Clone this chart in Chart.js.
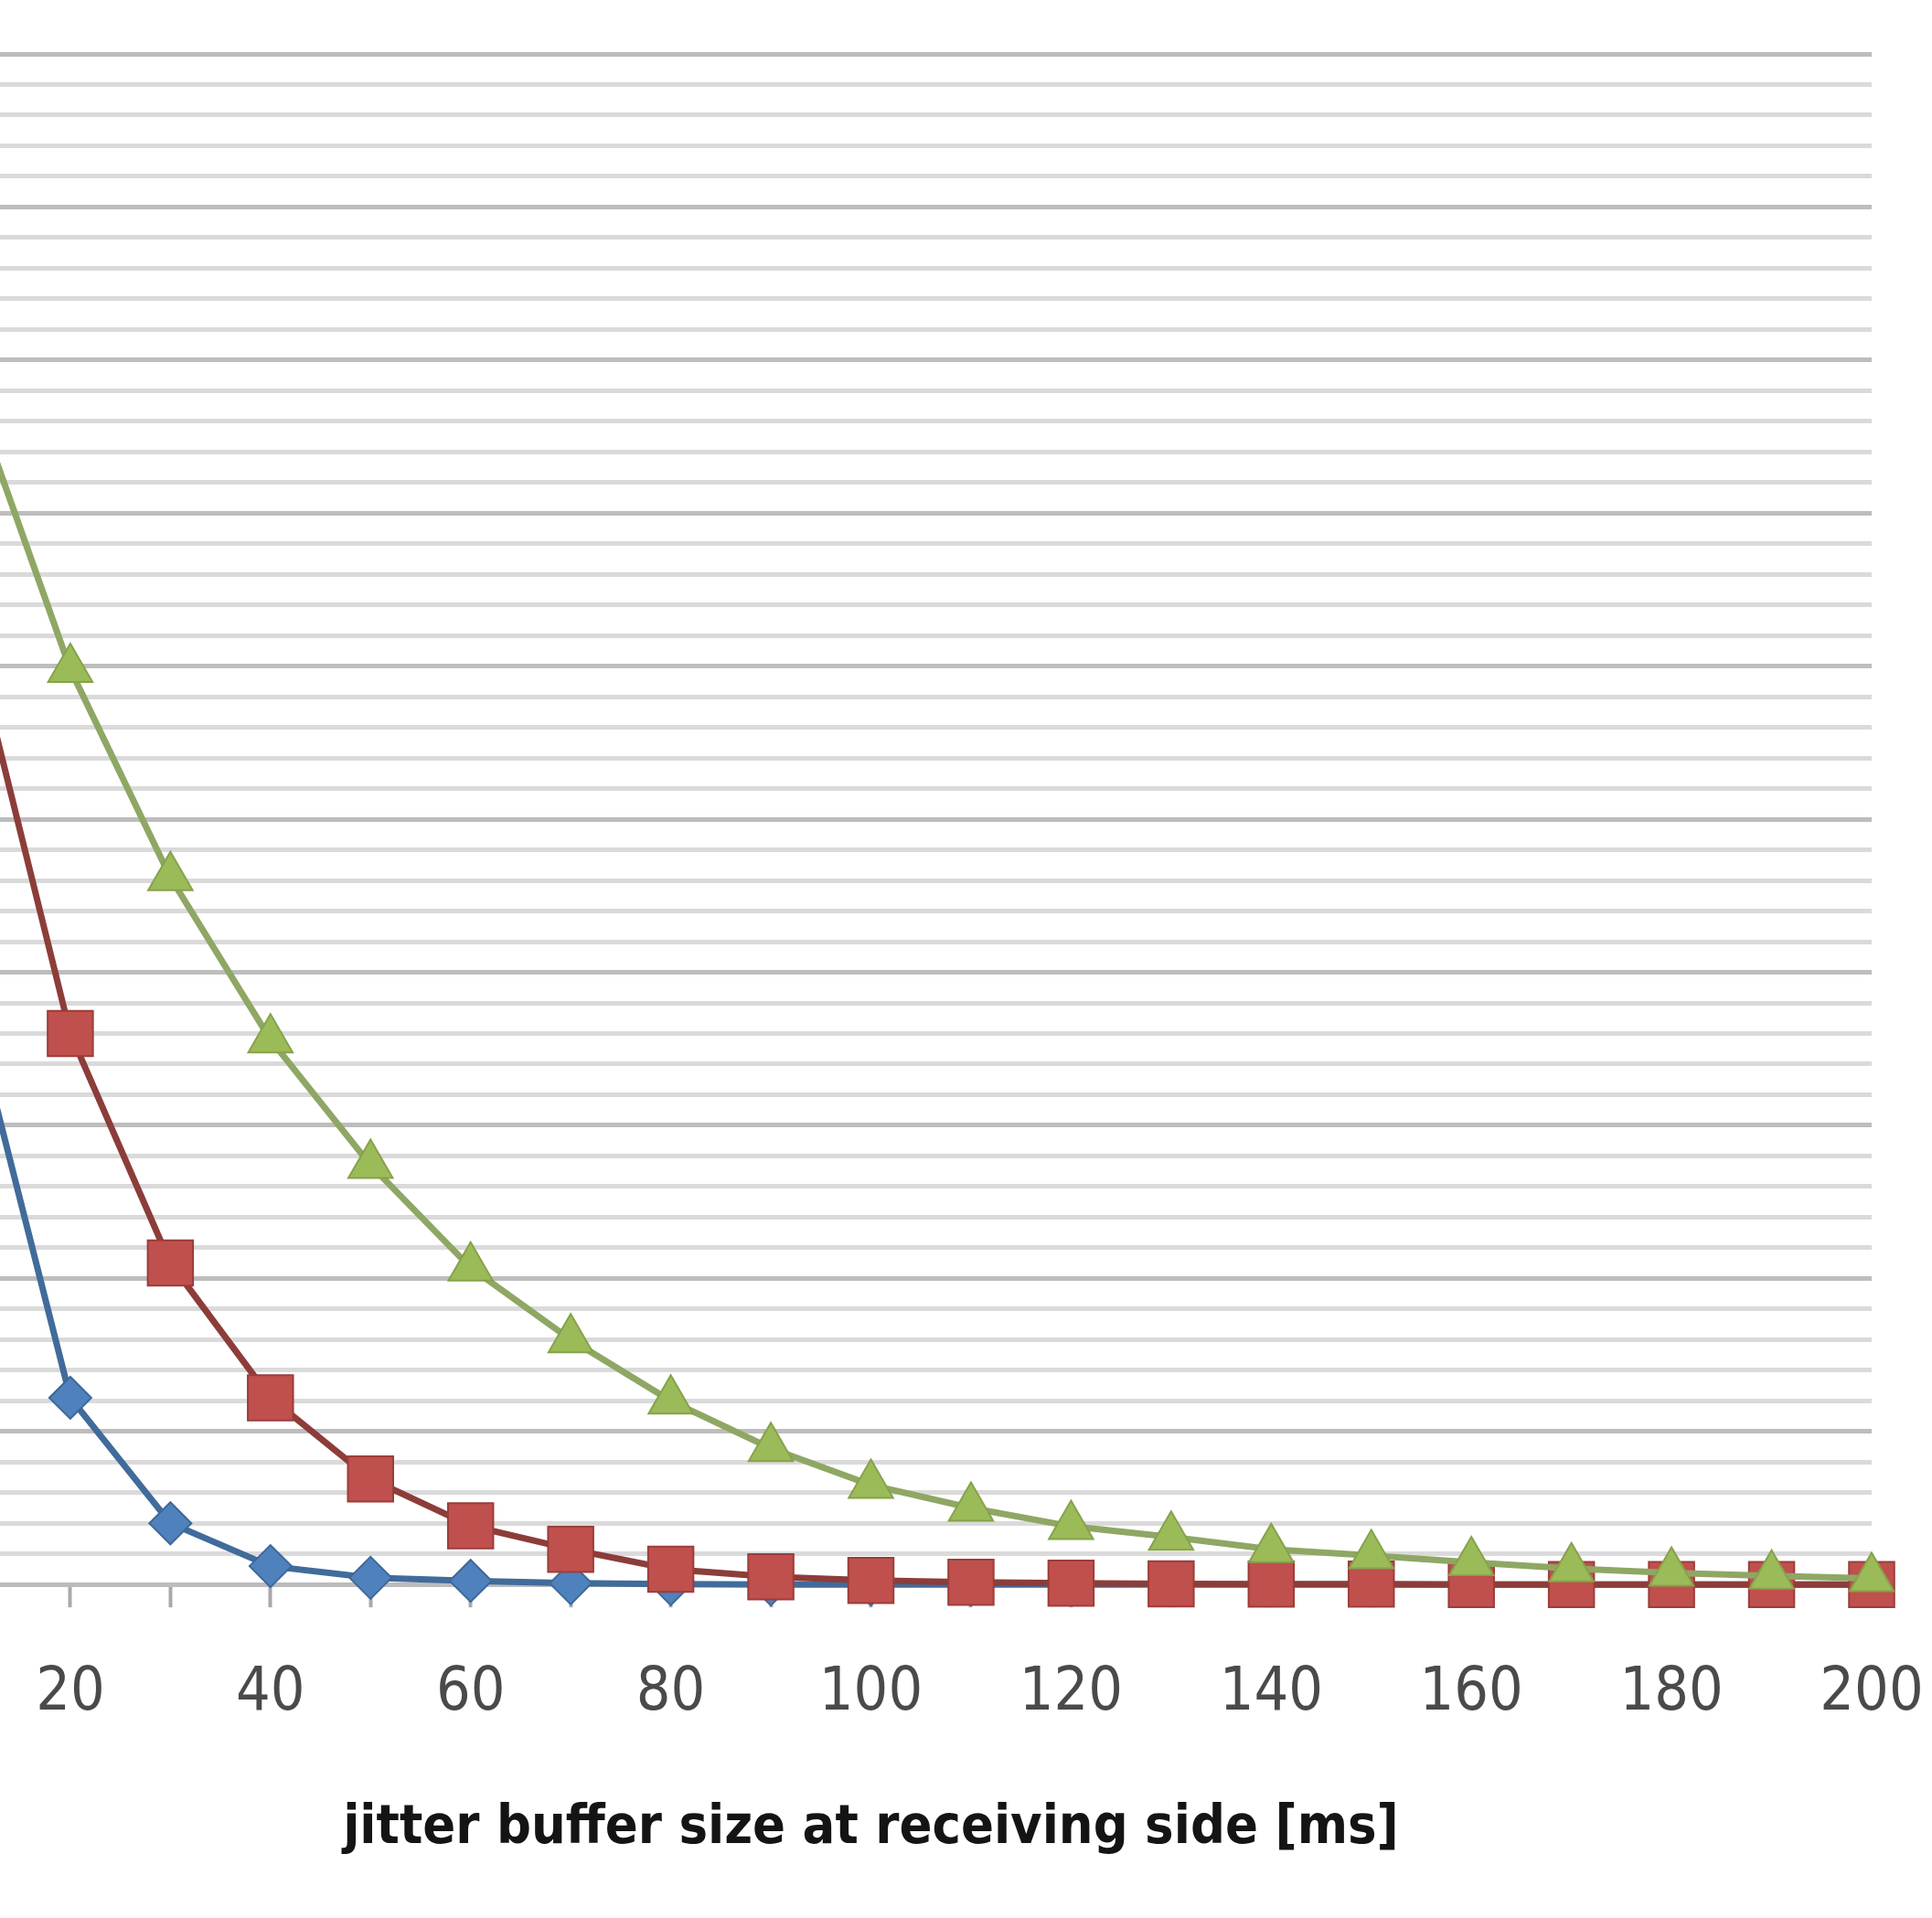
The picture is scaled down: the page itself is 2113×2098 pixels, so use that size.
<!DOCTYPE html>
<html>
<head>
<meta charset="utf-8">
<title>jitter buffer</title>
<script src="https://cdn.jsdelivr.net/npm/chart.js@4.4.1/dist/chart.umd.min.js"></script>
<style>
  html, body { margin: 0; padding: 0; background: #fff; overflow: hidden; }
  /* the picture is a crop: x = 0 and the y axis sit left of the page */
  #wrap { position: absolute; left: -179px; top: 0; width: 2292px; height: 2098px; }
</style>
</head>
<body>
<div id="wrap"><canvas id="chart-jitter" width="2292" height="2098"></canvas></div>
<script>
// jitter buffer size [ms]
const buffer_ms = [10, 20, 30, 40, 50, 60, 70, 80, 90, 100, 110, 120, 130, 140, 150, 160, 170, 180, 190, 200];

// values (y axis labels are cropped, so the unit is a guess)
const series_blue  = [19.0, 6.1, 2.0, 0.6, 0.22, 0.12, 0.04, 0.01, 0, 0, 0, 0, 0, 0, 0, 0, 0, 0, 0, 0];
const series_red   = [31.2, 18.0, 10.5, 6.1, 3.45, 1.92, 1.15, 0.5, 0.25, 0.13, 0.07, 0.04, 0.02, 0.01, 0.01, 0, 0, 0, 0, 0];
const series_green = [39.1, 29.9, 23.1, 17.8, 13.7, 10.35, 8.0, 6.0, 4.45, 3.25, 2.5, 1.9, 1.55, 1.15, 0.95, 0.72, 0.52, 0.38, 0.28, 0.2];

const x_title = "jitter buffer size at receiving side [ms]";

const font_family = "'Liberation Sans Narrow', 'DejaVu Sans Condensed', 'Liberation Sans', sans-serif";

function toPoints(values) {
  return values.map((v, i) => ({ x: buffer_ms[i], y: v }));
}

const data_jitter = {
  datasets: [
    {
      label: "series 3",
      data: toPoints(series_green),
      order: 1,
      borderColor: "#8fa764",
      backgroundColor: "#9bbb59",
      pointBackgroundColor: "#9bbb59",
      pointBorderColor: "#86a24b",
      pointStyle: "triangle",
      pointRadius: 28,
      pointBorderWidth: 2
    },
    {
      label: "series 2",
      data: toPoints(series_red),
      order: 2,
      borderColor: "#8c3d3a",
      backgroundColor: "#c0504d",
      pointBackgroundColor: "#c0504d",
      pointBorderColor: "#9b3d3a",
      pointStyle: "rect",
      pointRadius: 35,
      pointBorderWidth: 2
    },
    {
      label: "series 1",
      data: toPoints(series_blue),
      order: 3,
      borderColor: "#416b9a",
      backgroundColor: "#4f81bd",
      pointBackgroundColor: "#4f81bd",
      pointBorderColor: "#3d6899",
      pointStyle: "rectRot",
      pointRadius: 23,
      pointBorderWidth: 2
    }
  ]
};

const config_jitter = {
  type: "line",
  data: data_jitter,
  options: {
    responsive: false,
    animation: false,
    layout: {
      padding: { left: 0, right: 66, top: 59, bottom: 0 }
    },
    elements: {
      line: { borderWidth: 7, tension: 0, fill: false },
      point: { hoverRadius: 0 }
    },
    datasets: {
      line: { clip: false }
    },
    plugins: {
      legend: { display: false },
      tooltip: { enabled: false }
    },
    scales: {
      x: {
        type: "linear",
        min: 0,
        max: 200,
        border: { display: true, color: "#bcbcbc", width: 5 },
        grid: {
          drawOnChartArea: false,
          drawTicks: true,
          tickLength: 25,
          tickWidth: 4,
          color: "#a9a9a9"
        },
        ticks: {
          stepSize: 10,
          autoSkip: false,
          maxRotation: 0,
          minRotation: 0,
          padding: 0,
          color: "#4a4a4a",
          // tall line box puts the label centres where the picture has them
          font: { family: font_family, size: 66, lineHeight: "190px" },
          callback: (value) => (value > 0 && value % 20 === 0) ? String(value) : ""
        },
        title: {
          display: true,
          text: x_title,
          color: "#141414",
          font: { family: font_family, size: 59, weight: "bold" },
          padding: { top: 17, bottom: 62 }
        }
      },
      y: {
        min: 0,
        max: 50,
        afterFit: (scale) => { scale.width = 0; },
        border: { display: false },
        grid: {
          drawTicks: false,
          lineWidth: 5,
          color: (ctx) => (ctx.tick && ctx.tick.value % 5 === 0) ? "#bdbdbd" : "#dadada"
        },
        ticks: { stepSize: 1, display: false }
      }
    }
  }
};

new Chart(document.getElementById("chart-jitter"), config_jitter);
</script>
</body>
</html>
